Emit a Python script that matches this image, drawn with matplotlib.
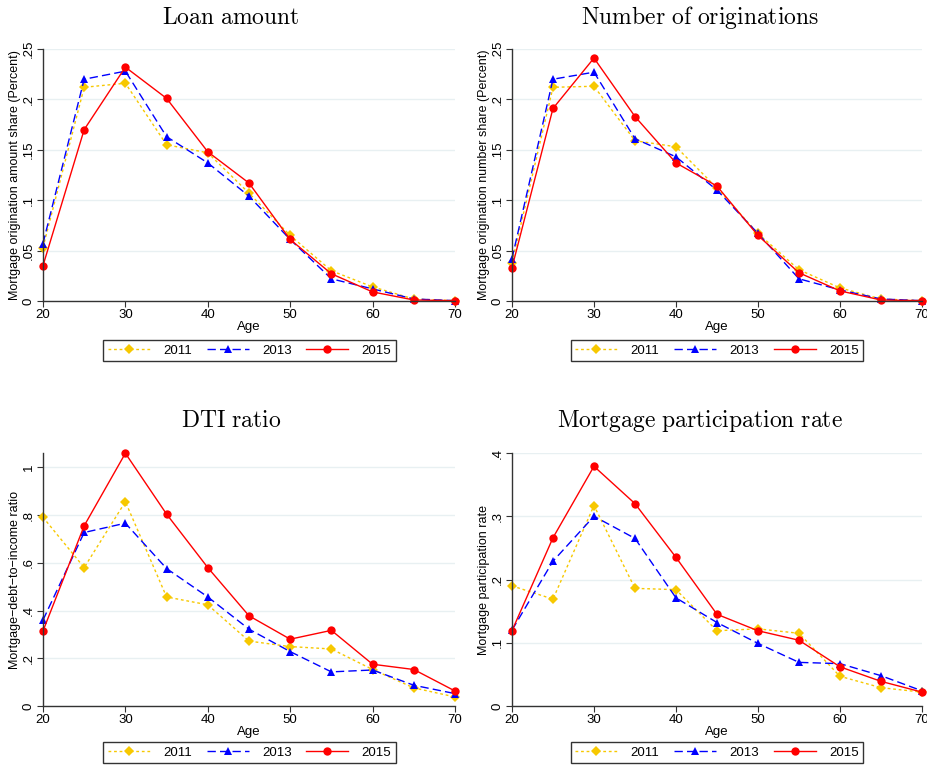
import matplotlib
matplotlib.use("Agg")
import matplotlib.pyplot as plt
from matplotlib.lines import Line2D

plt.rcParams['font.family'] = ['Liberation Sans', 'DejaVu Sans']
plt.rcParams['mathtext.fontset'] = 'cm'

ages = [20, 25, 30, 35, 40, 45, 50, 55, 60, 65, 70]
years = ['2011', '2013', '2015']

loan_2011 = [0.053, 0.212, 0.216, 0.155, 0.147, 0.107, 0.065, 0.030, 0.014, 0.002, 0.0003]
loan_2013 = [0.057, 0.220, 0.228, 0.163, 0.137, 0.104, 0.061, 0.022, 0.012, 0.002, 0.0003]
loan_2015 = [0.035, 0.170, 0.232, 0.201, 0.148, 0.117, 0.061, 0.027, 0.009, 0.001, 0.0003]

num_2011 = [0.038, 0.212, 0.213, 0.159, 0.153, 0.112, 0.067, 0.031, 0.013, 0.002, 0.0003]
num_2013 = [0.042, 0.220, 0.227, 0.161, 0.143, 0.110, 0.067, 0.022, 0.011, 0.002, 0.0003]
num_2015 = [0.033, 0.191, 0.241, 0.183, 0.137, 0.114, 0.065, 0.028, 0.010, 0.001, 0.0003]

dti_2011 = [0.791, 0.580, 0.856, 0.457, 0.424, 0.272, 0.249, 0.239, 0.153, 0.076, 0.038]
dti_2013 = [0.360, 0.727, 0.766, 0.576, 0.457, 0.322, 0.228, 0.143, 0.151, 0.087, 0.052]
dti_2015 = [0.314, 0.755, 1.059, 0.804, 0.580, 0.378, 0.280, 0.317, 0.175, 0.153, 0.063]

part_2011 = [0.190, 0.169, 0.317, 0.186, 0.184, 0.119, 0.122, 0.115, 0.047, 0.029, 0.022]
part_2013 = [0.120, 0.229, 0.300, 0.265, 0.171, 0.132, 0.099, 0.069, 0.067, 0.048, 0.024]
part_2015 = [0.119, 0.266, 0.379, 0.320, 0.235, 0.145, 0.119, 0.104, 0.062, 0.039, 0.022]

titles = ['Loan amount', 'Number of originations', 'DTI ratio', 'Mortgage participation rate']
ylabels = ['Mortgage origination amount share (Percent)',
           'Mortgage origination number share (Percent)',
           'Mortgage\u2212debt\u2212to\u2212income ratio',
           'Mortgage participation rate']
share_ticks = [0, 0.05, 0.1, 0.15, 0.2, 0.25]
share_labels = ['0', '.05', '.1', '.15', '.2', '.25']
dti_ticks = [0, 0.2, 0.4, 0.6, 0.8, 1.0]
dti_labels = ['0', '.2', '.4', '.6', '.8', '1']
part_ticks = [0, 0.1, 0.2, 0.3, 0.4]
part_labels = ['0', '.1', '.2', '.3', '.4']

panels = [
    (loan_2011, loan_2013, loan_2015, share_ticks, share_labels, 0.25),
    (num_2011, num_2013, num_2015, share_ticks, share_labels, 0.25),
    (dti_2011, dti_2013, dti_2015, dti_ticks, dti_labels, 1.06),
    (part_2011, part_2013, part_2015, part_ticks, part_labels, 0.4),
]

styles = [
    dict(color='#f7c800', linestyle=(0, (2, 2)), marker='D', markersize=5),
    dict(color='#0000ff', linestyle=(0, (6, 3)), marker='^', markersize=6),
    dict(color='#ff0000', linestyle='-', marker='o', markersize=6),
]

fig = plt.figure(figsize=(9.28, 7.69), dpi=100)
positions = [
    [0.0463, 0.6086, 0.444, 0.3277],
    [0.5517, 0.6086, 0.4418, 0.3277],
    [0.0463, 0.0819, 0.444, 0.3290],
    [0.5517, 0.0819, 0.4418, 0.3290],
]
title_xy = [(0.249, 0.977), (0.754, 0.977), (0.249, 0.453), (0.754, 0.453)]
legend_xy = [(0.269, 0.5442), (0.7726, 0.5442), (0.269, 0.0215), (0.7726, 0.0215)]

for i, (s11, s13, s15, yt, ytl, ytop) in enumerate(panels):
    ax = fig.add_axes(positions[i])
    for vals, st in zip([s11, s13, s15], styles):
        ax.plot(ages, vals, linewidth=1.0, markeredgewidth=0, clip_on=False, **st)
    ax.set_xlim(20, 70)
    ax.set_ylim(0, ytop)
    ax.set_xticks([20, 30, 40, 50, 60, 70])
    ax.set_yticks(yt)
    ax.set_yticklabels(ytl, rotation=90, va='center')
    ax.tick_params(labelsize=9.5, length=4, color='#333333', pad=2)
    ax.grid(axis='y', color='#e8f0f2', linewidth=1.0)
    ax.set_axisbelow(True)
    for sp in ['top', 'right']:
        ax.spines[sp].set_visible(False)
    for sp in ['left', 'bottom']:
        ax.spines[sp].set_color('#333333')
        ax.spines[sp].set_linewidth(1.0)
    ax.set_xlabel('Age', fontsize=9.5, labelpad=0)
    ax.set_ylabel(ylabels[i], fontsize=9, labelpad=1)
    fig.text(title_xy[i][0], title_xy[i][1], r'$\mathrm{' + titles[i].replace(' ', r'\ ') + '}$',
             fontsize=17, ha='center', va='center')
    handles = [Line2D([], [], linewidth=1.0, markeredgewidth=0, **st) for st in styles]
    leg = fig.legend(handles, years, loc='center', bbox_to_anchor=legend_xy[i], ncol=3,
                     fontsize=9.5, frameon=True, fancybox=False, edgecolor='black',
                     handlelength=3.2, columnspacing=1.1, borderpad=0.35, handletextpad=1.0)
    leg.get_frame().set_linewidth(1.0)

plt.savefig('out.png', dpi=100)
